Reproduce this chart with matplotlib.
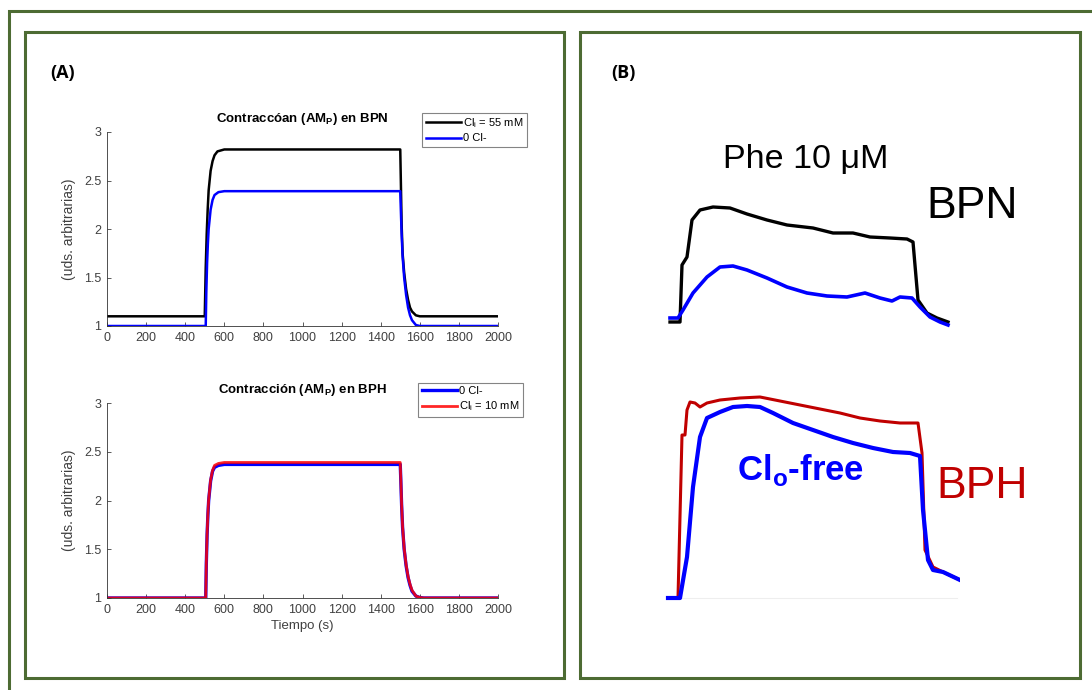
import matplotlib
matplotlib.use("Agg")
import matplotlib.pyplot as plt
from matplotlib.patches import Rectangle

plt.rcParams['font.family'] = ['Liberation Sans', 'DejaVu Sans']
plt.rcParams['mathtext.fontset'] = 'custom'
plt.rcParams['mathtext.rm'] = 'Liberation Sans'
plt.rcParams['mathtext.bf'] = 'Liberation Sans:bold'

# ---- panel A: model curves (time in s, contraction in arbitrary units)
t_bpn = [0, 500, 505, 510, 515, 520, 530, 540, 550, 565, 600, 1500, 1503, 1507,
         1512, 1520, 1530, 1540, 1550, 1560, 1580, 1600, 2000]
amp_bpn_cl55 = [1.1, 1.1, 1.6, 1.95, 2.2, 2.4, 2.6, 2.7, 2.76, 2.8, 2.82, 2.82, 2.5, 2.05,
                1.75, 1.55, 1.38, 1.27, 1.19, 1.15, 1.11, 1.1, 1.1]
t_bpn0 = [0, 505, 508, 512, 516, 520, 530, 540, 550, 570, 600, 1500, 1503, 1507,
          1512, 1520, 1530, 1540, 1550, 1560, 1580, 1600, 2000]
amp_bpn_cl0 = [1.0, 1.0, 1.35, 1.65, 1.85, 2.0, 2.2, 2.3, 2.35, 2.38, 2.39, 2.39, 2.2, 1.95,
               1.72, 1.5, 1.32, 1.19, 1.11, 1.06, 1.01, 1.0, 1.0]

t_bph = [0, 505, 508, 512, 516, 520, 530, 540, 550, 570, 600, 1500, 1503, 1507,
         1512, 1520, 1530, 1540, 1550, 1560, 1580, 1600, 1620, 2000]
amp_bph_cl0 = [1.0, 1.0, 1.35, 1.65, 1.85, 2.0, 2.2, 2.3, 2.34, 2.36, 2.37, 2.37, 2.2, 1.95,
               1.72, 1.5, 1.33, 1.21, 1.13, 1.07, 1.02, 1.005, 1.0, 1.0]
amp_bph_cl10 = [1.0, 1.0, 1.36, 1.66, 1.86, 2.01, 2.21, 2.31, 2.36, 2.38, 2.39, 2.39, 2.21, 1.96,
                1.73, 1.51, 1.34, 1.22, 1.14, 1.08, 1.02, 1.005, 1.0, 1.0]

xticks_a = list(range(0, 2001, 200))
yticks_a = [1, 1.5, 2, 2.5, 3]
ytick_labels = ['1', '1.5', '2', '2.5', '3']

# ---- panel B: experimental traces (time in samples, tension in arbitrary units)
t_bpn_exp = [0, 10, 12, 17, 22, 30, 43, 60, 77, 97, 117, 143, 163, 183, 200, 220,
             237, 243, 248, 257, 267, 278]
bpn_ctrl = [0, 0, 57, 65, 102, 112, 115, 114, 108, 102, 97, 94, 89, 89, 85, 84,
            83, 80, 22, 9, 4, 0]
t_bpn_free = [0, 8, 13, 23, 37, 50, 63, 77, 97, 117, 137, 157, 177, 195, 210, 222,
              230, 242, 250, 260, 270, 278]
bpn_free = [4, 4, 12, 29, 45, 55, 56, 52, 44, 35, 29, 26, 25, 29, 24, 21,
            25, 24, 15, 5, 0, -3]

t_bph_ctrl = [0, 10, 14, 17, 19, 22, 27, 32, 39, 52, 72, 92, 112, 132, 152, 172,
              192, 212, 232, 250, 254, 257, 265, 275, 292]
bph_ctrl = [0, 0, 163, 163, 188, 196, 195, 191, 195, 198, 200, 201, 197, 193, 189, 185,
            180, 177, 175, 175, 145, 48, 31, 26, 18]
t_bph_free = [0, 12, 19, 25, 32, 39, 52, 65, 79, 92, 105, 125, 145, 165, 185, 205,
              225, 242, 252, 255, 260, 265, 275, 292]
bph_free = [0, 0, 41, 111, 161, 180, 186, 191, 192, 191, 185, 175, 168, 161, 155, 150,
            146, 145, 142, 88, 38, 28, 26, 18]

W, H = 1092, 690
fig = plt.figure(figsize=(W / 100, H / 100), dpi=100)
green = '#4d6b33'


def frac(x0, y0, x1, y1):
    # pixel box (top-left origin) -> figure fraction rect
    return [x0 / W, 1 - y1 / H, (x1 - x0) / W, (y1 - y0) / H]


# borders
for (x0, y0, x1, y1) in [(9, 11, 1095, 693), (25, 32, 564, 678), (580, 32, 1080, 678)]:
    r = frac(x0, y0, x1, y1)
    fig.patches.append(Rectangle((r[0], r[1]), r[2], r[3], transform=fig.transFigure,
                                 fill=False, edgecolor=green, linewidth=2.2, zorder=0))

fig.text(50 / W, 1 - 73 / H, '(A)', fontsize=13, fontweight='bold',
         family=['Open Sans', 'DejaVu Sans'], va='center')
fig.text(611 / W, 1 - 73 / H, '(B)', fontsize=13, fontweight='bold',
         family=['Open Sans', 'DejaVu Sans'], va='center')

gray = '#404040'


def style_axes(ax):
    ax.set_xlim(0, 2000)
    ax.set_ylim(1, 3)
    ax.set_xticks(xticks_a)
    ax.set_yticks(yticks_a)
    ax.set_yticklabels(ytick_labels)
    for s in ['top', 'right']:
        ax.spines[s].set_visible(False)
    for s in ['left', 'bottom']:
        ax.spines[s].set_color('#333333')
        ax.spines[s].set_linewidth(0.6)
    ax.tick_params(direction='in', length=3, width=0.6, colors=gray,
                   labelsize=9, pad=4)
    ax.set_ylabel('(uds. arbitrarias)', fontsize=10, color=gray, labelpad=6)


ax1 = fig.add_axes(frac(107, 132, 498, 326))
ax1.plot(t_bpn, amp_bpn_cl55, color='black', lw=1.8, label='Cl$_\\mathregular{i}$ = 55 mM')
ax1.plot(t_bpn0, amp_bpn_cl0, color='#0000ff', lw=1.8, label='0 Cl-')
style_axes(ax1)
ax1.set_title('Contraccóan (AM$_\\mathbf{P}$) en BPN', fontsize=9.5, fontweight='bold',
              pad=7)
leg = ax1.legend(loc='upper right', bbox_to_anchor=(527 / W, 1 - 113 / H),
                 bbox_transform=fig.transFigure, fontsize=8, fancybox=False,
                 edgecolor='#666666', handlelength=3.2, handletextpad=0.2,
                 borderpad=0.3, labelspacing=0.3, borderaxespad=0)
leg.get_frame().set_linewidth(0.8)

ax2 = fig.add_axes(frac(107, 403, 498, 598))
ax2.plot(t_bph, amp_bph_cl0, color='#0000ff', lw=2.4, label='0 Cl-')
ax2.plot(t_bph, amp_bph_cl10, color='#ff0000', lw=2.0, alpha=0.85, label='Cl$_\\mathregular{i}$ = 10 mM')
style_axes(ax2)
ax2.set_title('Contracción (AM$_\\mathbf{P}$) en BPH', fontsize=9.5, fontweight='bold', pad=7)
ax2.set_xlabel('Tiempo (s)', fontsize=9.5, color=gray, labelpad=3)
leg = ax2.legend(loc='upper right', bbox_to_anchor=(523 / W, 1 - 383 / H),
                 bbox_transform=fig.transFigure, fontsize=8, fancybox=False,
                 edgecolor='#666666', handlelength=3.2, handletextpad=0.2,
                 borderpad=0.3, labelspacing=0.3, borderaxespad=0)
leg.get_frame().set_linewidth(0.8)

# panel B traces
bx1 = fig.add_axes(frac(660, 190, 960, 330))
bx1.plot(t_bpn_exp, bpn_ctrl, color='black', lw=2.4, solid_joinstyle='round')
bx1.plot(t_bpn_free, bpn_free, color='#0000ff', lw=2.6, solid_joinstyle='round')
bx1.set_xlim(-10, 290)
bx1.set_ylim(-8, 132)
bx1.axis('off')

bx2 = fig.add_axes(frac(660, 390, 960, 610))
bx2.axhline(0, xmin=0.027, xmax=0.99, color='#eeeeee', lw=0.8, zorder=0)
bx2.plot(t_bph_ctrl, bph_ctrl, color='#c00000', lw=2.2, solid_joinstyle='round')
bx2.plot(t_bph_free, bph_free, color='#0000ff', lw=3.0, solid_joinstyle='round')
bx2.set_xlim(-8, 292)
bx2.set_ylim(-12, 208)
bx2.axis('off')

fig.text(806 / W, 1 - 160 / H, 'Phe 10 μM', fontsize=24.5, ha='center', va='center')
fig.text(972 / W, 1 - 206 / H, 'BPN', fontsize=32, ha='center', va='center')
fig.text(982 / W, 1 - 486 / H, 'BPH', fontsize=32, ha='center', va='center',
         color='#c00000')
fig.text(801 / W, 1 - 470 / H, 'Cl$_\\mathbf{o}$-free', fontsize=25, ha='center',
         va='center', color='#0000ff', fontweight='bold')

fig.savefig('out.png', dpi=100)
